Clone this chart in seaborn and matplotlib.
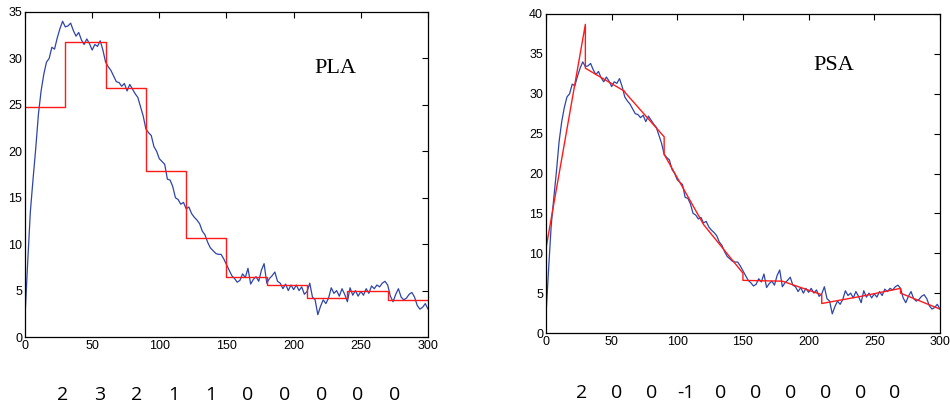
import matplotlib
matplotlib.use("Agg")
import matplotlib.pyplot as plt
import numpy as np
import pandas as pd
import seaborn as sns

# measured signal, sampled every 2 units on 0..300
signal_x = list(range(0, 301, 2))
signal = [
    2.2, 8.0, 13.5, 17.0, 20.3, 24.0, 26.5, 28.3, 29.6, 30.0,
    31.2, 31.0, 32.2, 33.2, 34.0, 33.4, 33.5, 33.8, 33.0, 32.4,
    32.8, 32.0, 31.5, 32.1, 31.6, 30.9, 31.5, 31.3, 31.9, 30.9,
    29.6, 29.1, 28.7, 28.1, 27.5, 27.4, 27.0, 27.3, 26.5, 27.2,
    26.7, 26.2, 25.8, 24.8, 23.8, 22.4, 22.0, 21.7, 20.5, 20.0,
    19.2, 18.9, 18.6, 17.0, 16.9, 16.2, 15.0, 14.8, 14.3, 14.5,
    13.8, 14.0, 13.3, 12.9, 12.6, 12.2, 11.4, 11.0, 10.2, 9.6,
    9.3, 9.0, 8.9, 8.9, 8.4, 7.8, 7.2, 6.6, 6.3, 5.9,
    6.1, 6.8, 6.4, 7.4, 5.7, 6.2, 6.5, 6.0, 7.2, 7.9,
    5.8, 6.3, 6.6, 7.0, 6.0, 5.8, 5.2, 5.7, 5.0, 5.6,
    5.1, 5.6, 5.0, 5.4, 4.6, 4.9, 5.8, 4.3, 4.0, 2.4,
    3.3, 4.0, 3.6, 4.2, 5.3, 4.7, 5.0, 4.4, 5.2, 4.6,
    3.8, 5.3, 4.5, 5.0, 4.4, 4.9, 4.5, 5.2, 4.7, 5.5,
    5.2, 5.6, 5.4, 5.8, 6.0, 5.6, 4.4, 3.8, 4.6, 5.2,
    4.3, 4.0, 4.2, 4.6, 4.8, 4.3, 3.4, 3.0, 3.2, 3.6,
    3.0,
]

# segment boundaries (10 segments of 30)
seg_edges = [0, 30, 60, 90, 120, 150, 180, 210, 240, 270, 300]

# PLA: one constant level per segment
pla_levels = [24.8, 31.8, 26.8, 17.9, 10.7, 6.5, 5.6, 4.2, 5.0, 4.0]

# PSA: start / end value of each linear segment
psa_start = [10.6, 33.2, 30.2, 22.4, 13.6, 6.6, 6.5, 3.7, 4.6, 5.0]
psa_end = [38.7, 30.3, 24.6, 13.6, 7.5, 6.5, 4.8, 4.6, 5.6, 3.0]

pla_codes = ["2", "3", "2", "1", "1", "0", "0", "0", "0", "0"]
psa_codes = ["2", "0", "0", "-1", "0", "0", "0", "0", "0", "0"]

blue = "#2d45a8"
red = "#ff1a1a"

sns.set_style("white")
plt.rcParams["font.family"] = ["Liberation Sans", "DejaVu Sans"]
plt.rcParams["text.color"] = "black"

df_sig = pd.DataFrame({"x": signal_x, "y": signal})
df_pla = pd.DataFrame({"x": seg_edges, "y": pla_levels + [pla_levels[-1]]})
psa_x, psa_y = [], []
for i in range(len(psa_start)):
    psa_x += [seg_edges[i], seg_edges[i + 1]]
    psa_y += [psa_start[i], psa_end[i]]
df_psa = pd.DataFrame({"x": psa_x, "y": psa_y})

fig = plt.figure(figsize=(9.5, 4.08), dpi=100)
ax1 = fig.add_axes([0.0263, 0.174, 0.4242, 0.7966])
ax2 = fig.add_axes([0.5747, 0.1838, 0.4147, 0.7819])

sns.lineplot(data=df_sig, x="x", y="y", ax=ax1, color=blue, lw=0.9,
             estimator=None, sort=False)
sns.lineplot(data=df_pla, x="x", y="y", ax=ax1, color=red, lw=1.0,
             estimator=None, sort=False, drawstyle="steps-post")

sns.lineplot(data=df_sig, x="x", y="y", ax=ax2, color=blue, lw=0.9,
             estimator=None, sort=False)
sns.lineplot(data=df_psa, x="x", y="y", ax=ax2, color=red, lw=1.0,
             estimator=None, sort=False)

for ax, top in [(ax1, 35), (ax2, 40)]:
    ax.set_xlim(0, 300)
    ax.set_ylim(0, top)
    ax.set_xticks(range(0, 301, 50))
    ax.set_yticks(range(0, top + 1, 5))
    ax.set_xlabel("")
    ax.set_ylabel("")
    ax.tick_params(direction="in", length=4, width=0.8, top=True, right=True,
                   labelsize=9, pad=2, colors="black")
    for s in ax.spines.values():
        s.set_color("black")
        s.set_linewidth(0.9)

ax1.text(0.77, 0.825, "PLA", transform=ax1.transAxes, ha="center", va="center",
         fontsize=16, family="Liberation Serif", color="black")
ax2.text(0.73, 0.84, "PSA", transform=ax2.transAxes, ha="center", va="center",
         fontsize=16, family="Liberation Serif", color="black")

for codes, x0, x1, y in [(pla_codes, 62.7, 395, 395), (psa_codes, 582, 895, 393)]:
    for xc, c in zip(np.linspace(x0, x1, len(codes)), codes):
        fig.text(xc / 950, 1 - y / 408, c, ha="center", va="center",
                 fontsize=14, family="Open Sans", color="black")

fig.savefig("out.png", dpi=100)
